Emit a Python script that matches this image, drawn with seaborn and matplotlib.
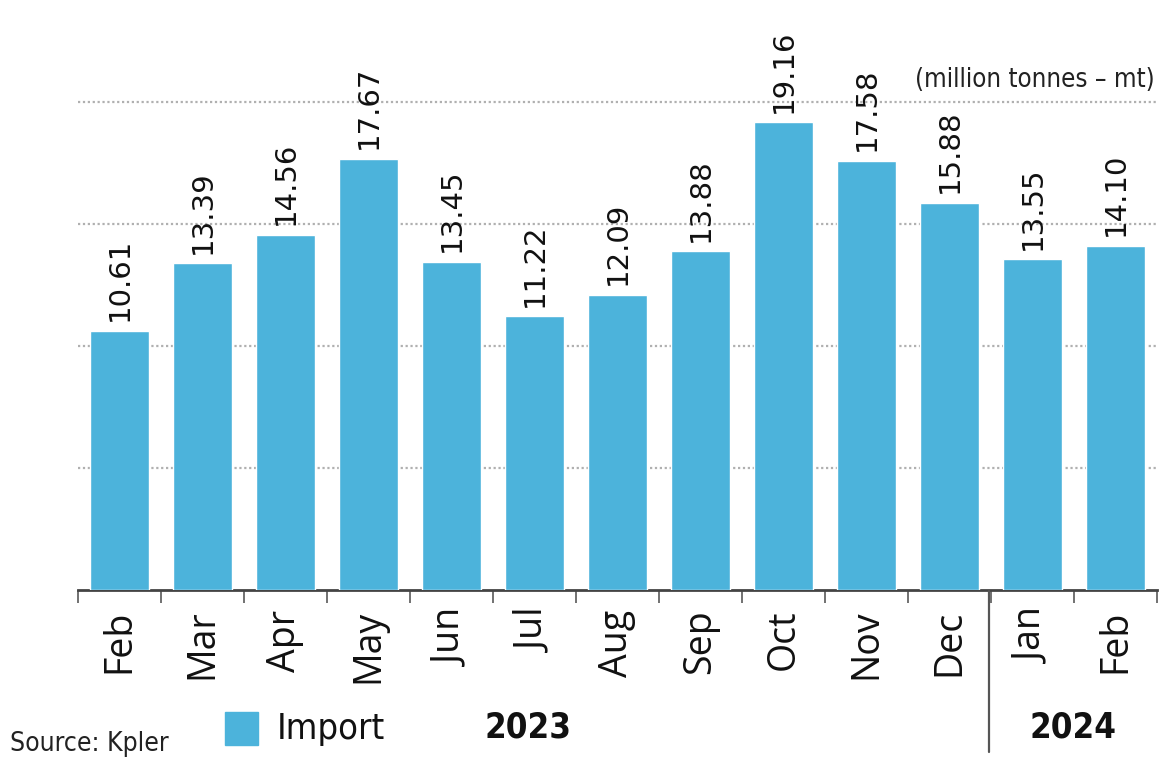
import matplotlib
matplotlib.use("Agg")
import matplotlib.pyplot as plt
import seaborn as sns
import pandas as pd
from matplotlib.patches import Rectangle
from matplotlib import font_manager

months = ["Feb", "Mar", "Apr", "May", "Jun", "Jul", "Aug", "Sep", "Oct", "Nov", "Dec", "Jan", "Feb"]
years = ["2023"] * 11 + ["2024"] * 2
imports = [10.61, 13.39, 14.56, 17.67, 13.45, 11.22, 12.09, 13.88, 19.16, 17.58, 15.88, 13.55, 14.10]
value_labels = ["10.61", "13.39", "14.56", "17.67", "13.45", "11.22", "12.09", "13.88", "19.16", "17.58", "15.88", "13.55", "14.10"]
grid_values = [5, 10, 15, 20]

BAR = "#4CB3DB"
W, H = 1173, 758

sns.set_theme(style="white")
plt.rcParams["font.family"] = ["Open Sans", "DejaVu Sans"]

cond_names = {f.name for f in font_manager.fontManager.ttflist}
NARROW = "Liberation Sans Narrow" if "Liberation Sans Narrow" in cond_names else "DejaVu Sans"

df = pd.DataFrame({"period": [f"{m}-{y}" for m, y in zip(months, years)],
                   "value": imports})

fig = plt.figure(figsize=(W / 100, H / 100), dpi=100)
ax = fig.add_axes([78 / W, (H - 590) / H, (1157 - 78) / W, (590 - 60) / H])

sns.barplot(data=df, x="period", y="value", color=BAR, width=0.71,
            saturation=1, ax=ax, order=list(df["period"]), zorder=3)

ax.set_xlim(-0.5, len(months) - 0.5)
ax.set_ylim(0, (590 - 60) / 24.4)

for g in grid_values:
    ax.axhline(g, color="#b0b0b0", lw=1.6, ls=(0, (1, 1.2)), zorder=1)

for s in ["top", "right", "left"]:
    ax.spines[s].set_visible(False)
ax.spines["bottom"].set_color("#444444")
ax.spines["bottom"].set_linewidth(2)
ax.set_yticks([])
ax.set_ylabel("")
ax.set_xlabel("")

ax.set_xticks(range(len(months)))
ax.set_xticklabels(months, rotation=90, fontsize=27, color="#111111",
                   va="top", ha="center")
ax.tick_params(axis="x", which="major", length=0, pad=14)
ax.set_xticks([i - 0.5 for i in range(len(months) + 1)], minor=True)
ax.tick_params(axis="x", which="minor", length=9, width=1.3, color="#666666",
               direction="out", bottom=True)

for i, (v, lab) in enumerate(zip(imports, value_labels)):
    ax.annotate(lab, (i, v), xytext=(0, 7), textcoords="offset points",
                rotation=90, ha="center", va="bottom", fontsize=21,
                family=["DejaVu Sans"], color="#111111", annotation_clip=False)

# year divider between Dec and Jan
fig.add_artist(plt.Line2D([989 / W, 989 / W], [(H - 591) / H, (H - 752) / H],
                          color="#555555", lw=1.6))

fig.text(1155 / W, 1 - 80 / H, "(million tonnes \u2013 mt)", fontsize=18.5,
         family=[NARROW], fontstretch="condensed", color="#222222",
         ha="right", va="center")

fig.text(528 / W, 1 - 727 / H, "2023", fontsize=25, weight="bold",
         family=[NARROW], fontstretch="condensed", ha="center", va="center", color="#111111")
fig.text(1073 / W, 1 - 727 / H, "2024", fontsize=25, weight="bold",
         family=[NARROW], fontstretch="condensed", ha="center", va="center", color="#111111")

fig.add_artist(Rectangle((225 / W, 1 - 745 / H), 33 / W, 33 / H,
                         transform=fig.transFigure, color=BAR))
fig.text(277 / W, 1 - 729 / H, "Import", fontsize=26,
         family=[NARROW], fontstretch="condensed", ha="left", va="center", color="#111111")
fig.text(10 / W, 1 - 744 / H, "Source: Kpler", fontsize=19,
         family=[NARROW], fontstretch="condensed", ha="left", va="center", color="#222222")

fig.savefig("out.png", dpi=100, facecolor="white")
